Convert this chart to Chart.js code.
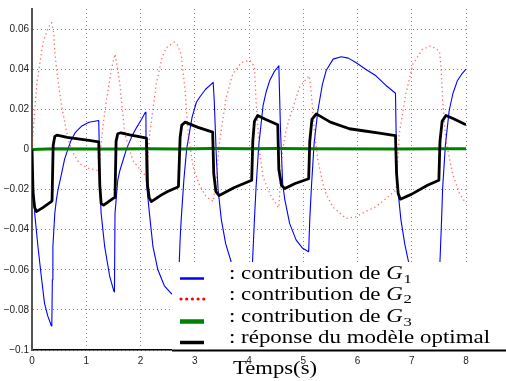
<!DOCTYPE html>
<html>
<head>
<meta charset="utf-8">
<script src="https://cdn.jsdelivr.net/npm/chart.js@4.4.1/dist/chart.umd.min.js"></script>
<style>
  html, body { margin: 0; padding: 0; background: #fff; }
  #chart { display: block; }
</style>
</head>
<body>
<canvas id="chart" width="506" height="381"></canvas>
<script>
// axis ticks
const xTicks = [0, 1, 2, 3, 4, 5, 6, 7, 8];
const yTicks = [-0.1, -0.08, -0.06, -0.04, -0.02, 0, 0.02, 0.04, 0.06];
const yTickLabels = ['\u22120.1', '\u22120.08', '\u22120.06', '\u22120.04', '\u22120.02', '0', '0.02', '0.04', '0.06'];
const xTitle = 'Temps(s)';

// contribution de G1 (blue) [t, value]
const g1 = [
  [0, 0], [0.01, -0.010], [0.02, -0.0154], [0.05, -0.032], [0.11, -0.0485], [0.17, -0.063],
  [0.23, -0.0766], [0.29, -0.083], [0.355, -0.0878], [0.365, -0.088], [0.375, -0.065],
  [0.385, -0.0485], [0.42, -0.032], [0.45, -0.025], [0.48, -0.020], [0.53, -0.0140],
  [0.60, -0.005], [0.66, 0], [0.72, 0.0045], [0.80, 0.0085], [0.91, 0.0115], [1.05, 0.0135],
  [1.23, 0.0144], [1.24, 0.002], [1.245, -0.0154], [1.275, -0.032], [1.34, -0.0485],
  [1.43, -0.063], [1.51, -0.0708], [1.52, -0.071], [1.53, -0.032], [1.58, -0.0154],
  [1.62, -0.0105], [1.74, 0], [1.84, 0.0065], [1.93, 0.011], [2.02, 0.015], [2.09, 0.0185],
  [2.10, 0.0175], [2.105, -0.0154], [2.165, -0.032], [2.23, -0.0485], [2.32, -0.060],
  [2.44, -0.068], [2.56, -0.0716], [2.70, -0.075], [2.71, -0.060], [2.73, -0.045],
  [2.75, -0.035], [2.80, -0.015], [2.85, 0], [2.95, 0.016], [3.03, 0.0235], [3.09, 0.026],
  [3.20, 0.030], [3.34, 0.0334], [3.36, 0.024], [3.40, -0.005], [3.43, -0.020],
  [3.49, -0.035], [3.57, -0.047], [3.67, -0.056], [3.80, -0.063], [4.05, -0.070],
  [4.065, -0.056], [4.10, -0.035], [4.13, -0.019], [4.18, 0.002], [4.26, 0.022],
  [4.32, 0.029], [4.38, 0.0342], [4.46, 0.0385], [4.55, 0.0417], [4.58, 0.010],
  [4.62, -0.017], [4.66, -0.025], [4.75, -0.037], [4.87, -0.0452], [4.99, -0.0493],
  [5.10, -0.051], [5.12, -0.035], [5.15, -0.019], [5.20, 0.003], [5.27, 0.0194],
  [5.35, 0.032], [5.42, 0.0392], [5.55, 0.045], [5.70, 0.0462], [5.83, 0.0455],
  [5.97, 0.0433], [6.15, 0.040], [6.34, 0.0367], [6.52, 0.032], [6.70, 0.028],
  [6.72, -0.005], [6.74, -0.019], [6.80, -0.035], [6.87, -0.047], [6.94, -0.056],
  [7.20, -0.065], [7.51, -0.070], [7.52, -0.056], [7.55, -0.035], [7.57, -0.019],
  [7.62, 0.002], [7.69, 0.0194], [7.76, 0.028], [7.84, 0.0342], [7.92, 0.0375], [8.0, 0.040]
];

// contribution de G2 (red dotted)
const g2 = [
  [0, 0], [0.02, 0.008], [0.05, 0.020], [0.09, 0.033], [0.15, 0.044], [0.21, 0.054],
  [0.30, 0.0607], [0.36, 0.0632], [0.40, 0.058], [0.42, 0.049], [0.45, 0.041],
  [0.50, 0.030], [0.55, 0.021], [0.67, 0.0045], [0.78, -0.003], [0.88, -0.0071],
  [1.05, -0.0095], [1.22, -0.0105], [1.25, -0.0055], [1.30, 0.010], [1.37, 0.0243],
  [1.47, 0.0408], [1.53, 0.0475], [1.56, 0.043], [1.62, 0.0326], [1.71, 0.0078],
  [1.86, -0.0055], [2.05, -0.0121], [2.11, -0.013], [2.17, 0.0078], [2.29, 0.0326],
  [2.40, 0.046], [2.48, 0.0508], [2.62, 0.0535], [2.68, 0.052], [2.75, 0.0475],
  [2.82, 0.030], [2.88, 0.0078], [2.97, -0.0088], [3.09, -0.018], [3.21, -0.0237],
  [3.31, -0.0253], [3.34, -0.026], [3.37, -0.020], [3.40, -0.0137], [3.46, 0.0045],
  [3.58, 0.026], [3.70, 0.0376], [3.86, 0.0433], [4.01, 0.0445], [4.06, 0.043],
  [4.10, 0.0408], [4.13, 0.0243], [4.19, 0], [4.26, -0.0137], [4.38, -0.022],
  [4.53, -0.0286], [4.55, -0.029], [4.58, -0.015], [4.62, 0], [4.68, 0.009],
  [4.75, 0.016], [4.93, 0.0309], [5.05, 0.035], [5.11, 0.0367], [5.15, 0.0276],
  [5.21, 0.0078], [5.27, -0.0055], [5.39, -0.0203], [5.54, -0.0286], [5.79, -0.0344],
  [5.97, -0.0336], [6.15, -0.031], [6.34, -0.0286], [6.71, -0.0203], [6.77, 0.0078],
  [6.89, 0.0276], [7.02, 0.0425], [7.20, 0.050], [7.35, 0.0516], [7.51, 0.0491],
  [7.54, 0.0408], [7.57, 0.0243], [7.63, 0.0045], [7.75, -0.012], [7.88, -0.022],
  [8.0, -0.027]
];

// contribution de G3 (green)
const g3 = [
  [0, 0], [0.4, 0.0003], [1.2, 0.0002], [1.5, 0.0002], [2.1, 0.0003], [2.7, 0.0002],
  [3.3, 0.0004], [4.0, 0.0003], [4.5, 0.0004], [5.1, 0.0003], [6.7, 0.0002],
  [7.5, 0.0003], [8.0, 0.0003]
];

// réponse du modèle optimal (black)
const yOpt = [
  [0, 0], [0.02, -0.022], [0.05, -0.029], [0.08, -0.031], [0.2, -0.029], [0.355, -0.026],
  [0.37, -0.0255], [0.39, 0.002], [0.42, 0.0065], [0.46, 0.0071], [0.65, 0.006],
  [0.85, 0.0053], [1.05, 0.0045], [1.23, 0.0038], [1.25, -0.018], [1.275, -0.027],
  [1.32, -0.0278], [1.49, -0.0245], [1.53, -0.024], [1.55, 0.004], [1.58, 0.0078],
  [1.64, 0.0083], [1.8, 0.0073], [2.0, 0.0062], [2.11, 0.0056], [2.13, -0.018],
  [2.16, -0.024], [2.20, -0.026], [2.38, -0.0228], [2.5, -0.021], [2.69, -0.0187],
  [2.70, -0.0184], [2.73, 0.006], [2.76, 0.012], [2.82, 0.0136], [3.06, 0.011],
  [3.33, 0.0086], [3.35, -0.012], [3.39, -0.021], [3.45, -0.023], [3.73, -0.019],
  [4.05, -0.0154], [4.07, 0.004], [4.10, 0.014], [4.16, 0.0169], [4.3, 0.015],
  [4.53, 0.0123], [4.55, -0.010], [4.6, -0.018], [4.66, -0.0195], [4.85, -0.017],
  [5.10, -0.0146], [5.12, 0.004], [5.16, 0.015], [5.24, 0.0177], [5.5, 0.0136],
  [5.85, 0.0103], [6.1, 0.0093], [6.37, 0.0083], [6.70, 0.0069], [6.72, -0.012],
  [6.75, -0.022], [6.79, -0.0248], [7.0, -0.0223], [7.29, -0.0179], [7.50, -0.0154],
  [7.52, 0.004], [7.56, 0.014], [7.63, 0.0169], [7.78, 0.0152], [8.0, 0.0123]
];

// legend rows: text before the G, subscript index (empty = no G)
const legendRows = [
  { pre: ': contribution de ', sub: '1' },
  { pre: ': contribution de ', sub: '2' },
  { pre: ': contribution de ', sub: '3' },
  { pre: ': r\u00e9ponse du mod\u00e8le optimal', sub: '' }
];

const toXY = arr => arr.map(p => ({ x: p[0], y: p[1] }));

const series = [
  { data: g1, color: '#0000ff', width: 1.1, dash: [], order: 4 },
  { data: g2, color: 'rgba(255,40,40,0.7)', width: 1.3, dash: [1.3, 3], order: 3 },
  { data: g3, color: '#008000', width: 3, dash: [], order: 2 },
  { data: yOpt, color: '#000000', width: 2.8, dash: [], order: 1 }
];

const legendSamples = [
  { color: '#0000ff', width: 2.5, dash: [], cap: 'butt' },
  { color: '#ff0000', width: 3.2, dash: [0, 5.7], cap: 'round' },
  { color: '#008000', width: 4.5, dash: [], cap: 'butt' },
  { color: '#000000', width: 3.5, dash: [], cap: 'butt' }
];

const serif = '"Liberation Serif", "DejaVu Serif", serif';

const boxLegend = {
  id: 'boxLegend',
  afterDatasetsDraw(chart) {
    const ctx = chart.ctx;
    ctx.save();
    ctx.fillStyle = '#fff';
    ctx.fillRect(172, 262, 334, 88);
    ctx.strokeStyle = '#000';
    ctx.lineWidth = 2.2;
    ctx.beginPath();
    ctx.moveTo(172, 350.5);
    ctx.lineTo(506, 350.5);
    ctx.stroke();

    // widen the serif text like the original Computer Modern
    ctx.font = '18px ' + serif;
    const k = 261 / ctx.measureText(legendRows[3].pre).width;

    const rowY = [278.5, 299, 321.5, 342.5];
    legendRows.forEach((row, i) => {
      const s = legendSamples[i];
      ctx.strokeStyle = s.color;
      ctx.lineWidth = s.width;
      ctx.setLineDash(s.dash);
      ctx.lineCap = s.cap;
      ctx.beginPath();
      ctx.moveTo(i === 1 ? 181 : 180, rowY[i]);
      ctx.lineTo(204, rowY[i]);
      ctx.stroke();
      ctx.setLineDash([]);

      ctx.save();
      ctx.translate(229, rowY[i] + 0.5);
      ctx.scale(k, 1);
      ctx.fillStyle = '#000';
      ctx.textBaseline = 'alphabetic';
      ctx.textAlign = 'left';
      ctx.font = '18px ' + serif;
      let x = 0;
      ctx.fillText(row.pre, x, 0);
      x += ctx.measureText(row.pre).width;
      if (row.sub) {
        ctx.font = 'italic 18px ' + serif;
        ctx.fillText('G', x, 0);
        x += ctx.measureText('G').width;
        ctx.font = '13px ' + serif;
        ctx.fillText(row.sub, x + 0.5, 3.5);
      }
      ctx.restore();
    });
    ctx.restore();
  },
  afterDraw(chart) {
    const ctx = chart.ctx;
    ctx.save();
    ctx.fillStyle = '#000';
    ctx.font = '19px ' + serif;
    const w = ctx.measureText(xTitle).width;
    const k = 84 / w;
    ctx.translate(275, 374);
    ctx.scale(k, 1);
    ctx.textAlign = 'center';
    ctx.textBaseline = 'alphabetic';
    ctx.fillText(xTitle, 0, 0);
    ctx.restore();
  }
};

new Chart(document.getElementById('chart'), {
  type: 'line',
  data: {
    datasets: series.map(s => ({
      data: toXY(s.data),
      borderColor: s.color,
      borderWidth: s.width,
      borderDash: s.dash,
      borderJoinStyle: 'round',
      order: s.order,
      pointRadius: 0,
      tension: 0,
      fill: false
    }))
  },
  options: {
    responsive: false,
    animation: false,
    devicePixelRatio: 1,
    layout: { padding: { top: 7, right: 40, left: 0, bottom: 0 } },
    plugins: {
      legend: { display: false },
      tooltip: { enabled: false }
    },
    scales: {
      x: {
        type: 'linear',
        min: 0,
        max: 8,
        afterBuildTicks: s => { s.ticks = xTicks.map(v => ({ value: v })); },
        afterFit: s => { s.height = 31; },
        grid: { color: '#8a8a8a', lineWidth: 1, drawTicks: false },
        border: { display: true, color: '#000', width: 1.5, dash: [1, 3] },
        ticks: {
          padding: 5,
          color: '#222',
          font: { family: '"Liberation Sans"', size: 10 },
          maxRotation: 0
        }
      },
      y: {
        type: 'linear',
        min: -0.1,
        max: 0.07,
        afterBuildTicks: s => { s.ticks = yTicks.map(v => ({ value: v })); },
        afterFit: s => { s.width = 32; },
        grid: { color: '#8a8a8a', lineWidth: 1, drawTicks: false },
        border: { display: true, color: '#555', width: 2, dash: [1, 3] },
        ticks: {
          padding: 3,
          color: '#222',
          font: { family: '"Liberation Sans"', size: 10 },
          callback: (v, i) => yTickLabels[i]
        }
      }
    }
  },
  plugins: [boxLegend]
});
</script>
</body>
</html>
